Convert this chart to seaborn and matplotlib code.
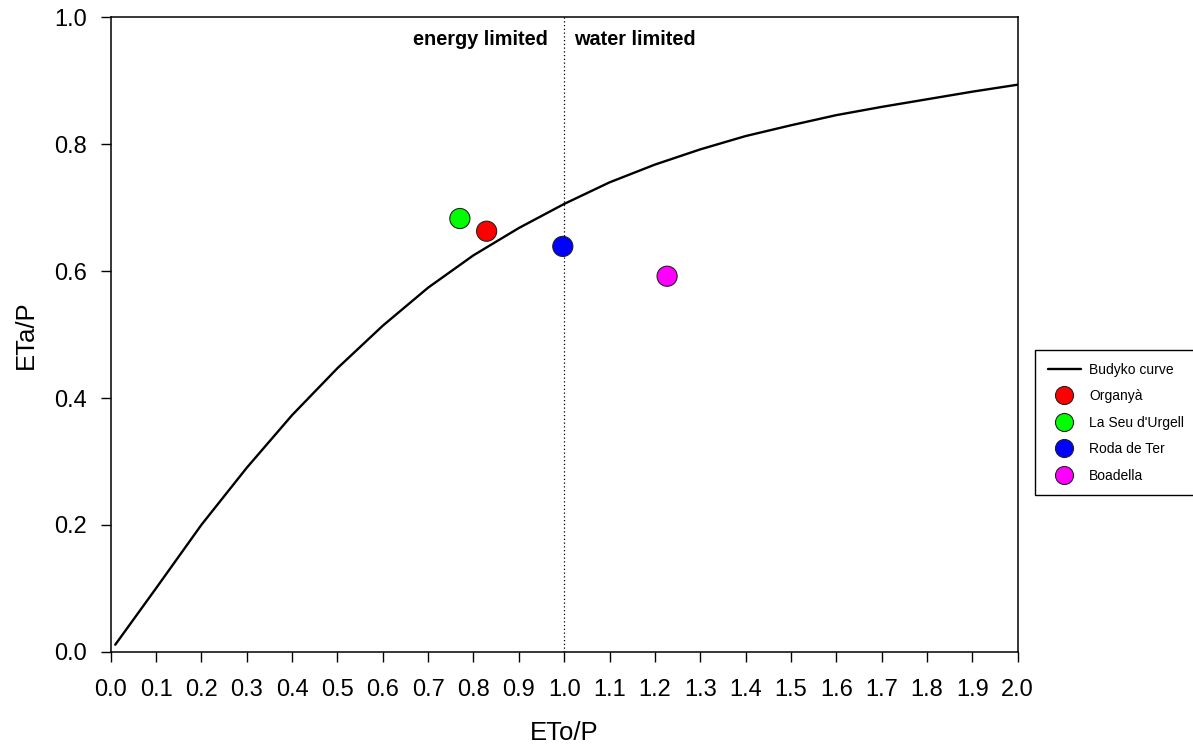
"""
Budyko diagram: ETa/P vs ETo/P for four catchments.
"""
import matplotlib
matplotlib.use("Agg")
import matplotlib.pyplot as plt
import pandas as pd
import seaborn as sns

# Budyko curve
curve_x = [0.01, 0.1, 0.2, 0.3, 0.4, 0.5, 0.6, 0.7, 0.8, 0.9, 1.0,
           1.1, 1.2, 1.3, 1.4, 1.5, 1.6, 1.7, 1.8, 1.9, 2.0]
curve_y = [0.011, 0.100, 0.200, 0.290, 0.373, 0.447, 0.514, 0.574, 0.625, 0.668, 0.706,
           0.740, 0.768, 0.792, 0.813, 0.830, 0.846, 0.859, 0.871, 0.883, 0.894]

# Catchments
sites = ["Organyà", "La Seu d'Urgell", "Roda de Ter", "Boadella"]
eto_p = [0.829, 0.770, 0.997, 1.227]
eta_p = [0.663, 0.683, 0.639, 0.592]
site_colors = ["#FF0000", "#00FF00", "#0000FF", "#FF00FF"]

sns.set_style("ticks")
plt.rcParams['font.family'] = ['Liberation Sans', 'DejaVu Sans']
plt.rcParams['text.color'] = 'black'
plt.rcParams['axes.labelcolor'] = 'black'

curve = pd.DataFrame({"x": curve_x, "y": curve_y})
pts = pd.DataFrame({"x": eto_p, "y": eta_p, "site": sites})

fig = plt.figure(figsize=(11.93, 7.47), dpi=100)
ax = fig.add_axes([0.0928, 0.1276, 0.7602, 0.849])

sns.lineplot(data=curve, x="x", y="y", ax=ax, color="black", linewidth=1.7,
             label="Budyko curve", zorder=2)
ax.axvline(1.0, color="black", linestyle=(0, (1, 2)), linewidth=0.9, zorder=1)
sns.scatterplot(data=pts, x="x", y="y", hue="site", hue_order=sites,
                palette=site_colors, s=210, edgecolor="#222222", linewidth=0.8,
                ax=ax, zorder=3)

ax.set_xlim(0, 2.0)
ax.set_ylim(0, 1.0)
ax.set_xticks([i / 10 for i in range(21)])
ax.set_xticklabels([f"{i / 10:.1f}" for i in range(21)])
ax.set_yticks([0, 0.2, 0.4, 0.6, 0.8, 1.0])
ax.set_yticklabels(["0.0", "0.2", "0.4", "0.6", "0.8", "1.0"])
ax.tick_params(axis="both", labelsize=17, length=7, width=1, direction="out",
               colors="black")
ax.tick_params(axis="x", pad=13)
ax.tick_params(axis="y", pad=10)
for sp in ax.spines.values():
    sp.set_linewidth(1.1)
    sp.set_color("black")

ax.set_xlabel("ETo/P", fontsize=18.5, labelpad=14)
ax.set_ylabel("ETa/P", fontsize=18.5, labelpad=12)

ax.text(0.965, 0.965, "energy limited", transform=ax.get_xaxis_transform(),
        ha="right", va="center", fontsize=14.3, fontweight="bold")
ax.text(1.022, 0.965, "water limited", transform=ax.get_xaxis_transform(),
        ha="left", va="center", fontsize=14.3, fontweight="bold")

handles, labels = ax.get_legend_handles_labels()
leg = ax.legend(handles, labels, loc="center left",
                bbox_to_anchor=(0.8676, 0.434), bbox_transform=fig.transFigure,
                borderaxespad=0, fontsize=10, frameon=True, fancybox=False,
                edgecolor="black", framealpha=1, handlelength=2.4,
                labelspacing=0.9, borderpad=0.9, handletextpad=0.6)
leg.get_frame().set_linewidth(1.0)
for h in leg.legend_handles:
    if hasattr(h, "get_marker") and h.get_marker() not in (None, "None", ""):
        h.set_markersize(13)
        h.set_markeredgecolor("#222222")
        h.set_markeredgewidth(0.8)

fig.savefig("out.png", dpi=100)
plt.close(fig)
